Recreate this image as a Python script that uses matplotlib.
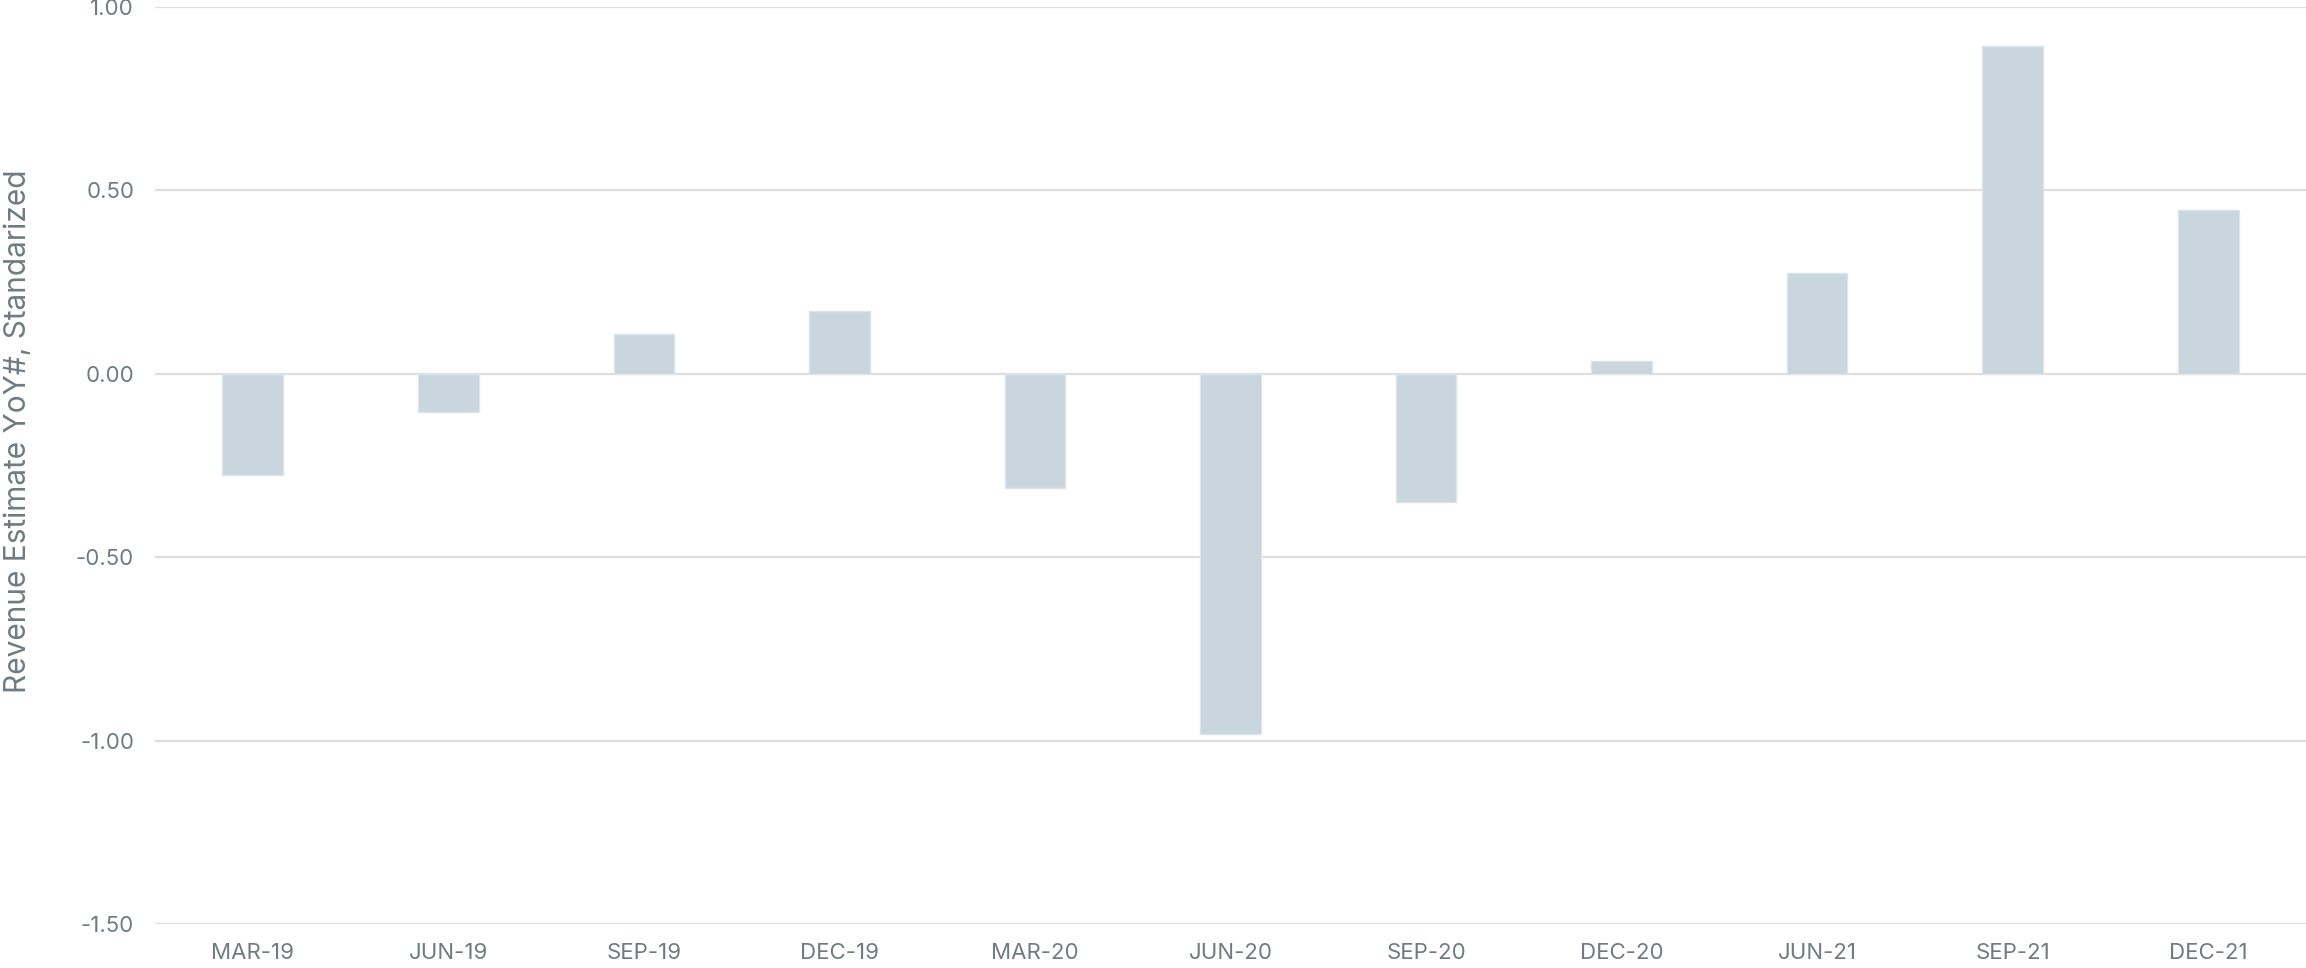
import matplotlib
matplotlib.use("Agg")
import matplotlib.pyplot as plt

categories = ["MAR-19", "JUN-19", "SEP-19", "DEC-19", "MAR-20", "JUN-20",
              "SEP-20", "DEC-20", "JUN-21", "SEP-21", "DEC-21"]
values = [-0.276, -0.105, 0.109, 0.170, -0.311, -0.982,
          -0.349, 0.036, 0.275, 0.894, 0.447]
yticks = [-1.5, -1.0, -0.5, 0.0, 0.5, 1.0]
ytick_labels = ["-1.50", "-1.00", "-0.50", "0.00", "0.50", "1.00"]
ylabel = "Revenue Estimate YoY#, Standarized"

plt.rcParams['font.family'] = ['Inter', 'DejaVu Sans']
text_color = "#6E7C82"

fig = plt.figure(figsize=(23.06, 9.68), dpi=100)
ax = fig.add_axes([155/2306, 1-924/968, 1-155/2306, (924-7)/968])

x = list(range(len(categories)))
ax.bar(x, values, width=0.31, color="#C9D6DE", edgecolor="#DCE5EC",
       linewidth=1, zorder=2)

ax.set_xlim(-0.5, len(categories) - 0.5)
ax.set_ylim(-1.5, 1.0)
ax.set_yticks(yticks)
ax.set_yticklabels(ytick_labels)
ax.set_xticks(x)
ax.set_xticklabels(categories)
ax.grid(axis="y", color="#DEDEDE", linewidth=1.6, zorder=0)
ax.set_axisbelow(True)
for s in ax.spines.values():
    s.set_visible(False)
ax.tick_params(axis="both", length=0, labelsize=16, colors=text_color)
ax.tick_params(axis="y", pad=15)
ax.tick_params(axis="x", pad=14)

fig.text(0.0078, 0.554, ylabel, rotation=90, ha="center", va="center",
         fontsize=21.5, color=text_color)

fig.savefig("out.png", dpi=100)
